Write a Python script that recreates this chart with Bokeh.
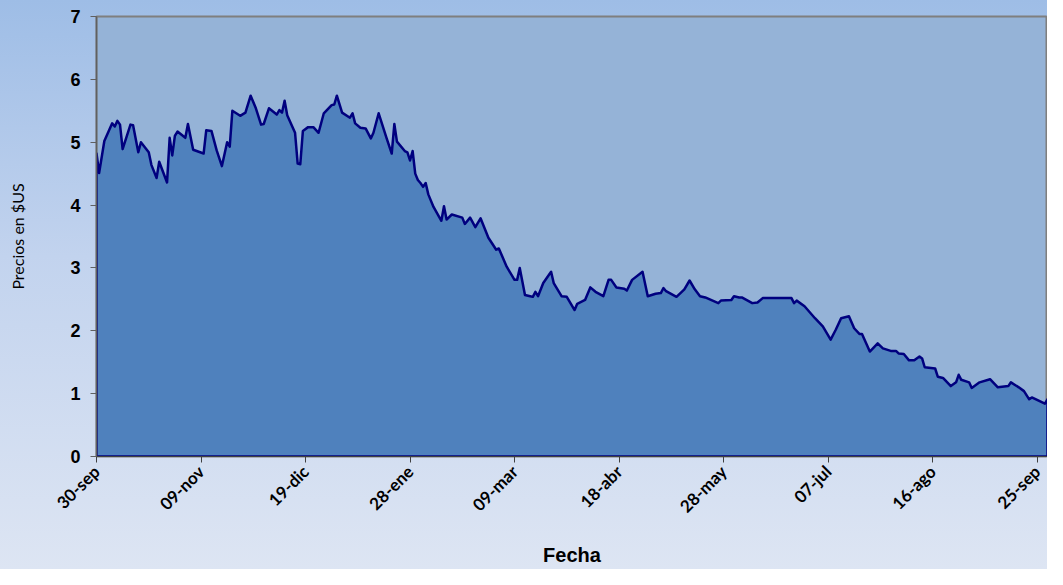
import math
from bokeh.plotting import figure
from bokeh.models import FixedTicker, Range1d
from bokeh.embed import file_html
from bokeh.resources import INLINE

# Días transcurridos desde el 30-sep
dias = [0, 1, 3, 6, 7, 8, 9, 10, 13, 14,
        16, 17, 20, 21, 23, 24, 27, 28, 29, 30,
        31, 34, 35, 37, 41, 42, 44, 46, 48, 50,
        51, 52, 55, 57, 59, 61, 63, 64, 66, 69,
        70, 71, 72, 73, 76, 77, 78, 79, 81, 83,
        85, 87, 90, 91, 92, 94, 97, 98, 99, 101,
        103, 105, 106, 108, 111, 113, 114, 115, 118, 119,
        120, 121, 122, 123, 124, 125, 126, 127, 129, 132,
        133, 134, 136, 140, 141, 143, 145, 147, 150, 153,
        154, 157, 160, 161, 162, 164, 166, 167, 168, 169,
        171, 174, 175, 178, 180, 183, 184, 187, 189, 191,
        194, 196, 197, 199, 202, 203, 205, 209, 211, 214,
        216, 217, 218, 222, 225, 227, 229, 231, 233, 238,
        239, 243, 244, 246, 247, 251, 253, 255, 266, 267,
        268, 271, 275, 278, 281, 283, 285, 288, 290, 292,
        293, 296, 299, 301, 304, 306, 307, 309, 311, 313,
        315, 316, 317, 321, 322, 324, 327, 329, 330, 331,
        334, 335, 338, 342, 345, 349, 350, 353, 355, 357,
        358, 361, 363, 364]

precios = [4.82, 4.51, 5.02, 5.30, 5.25, 5.34, 5.28, 4.89, 5.28, 5.27,
           4.84, 5.00, 4.84, 4.64, 4.43, 4.69, 4.36, 5.07, 4.79, 5.10,
           5.17, 5.07, 5.29, 4.88, 4.82, 5.19, 5.18, 4.87, 4.62, 5.00,
           4.93, 5.50, 5.42, 5.47, 5.74, 5.54, 5.28, 5.29, 5.54, 5.44,
           5.51, 5.47, 5.66, 5.43, 5.15, 4.66, 4.65, 5.18, 5.24, 5.24,
           5.15, 5.46, 5.59, 5.60, 5.74, 5.47, 5.39, 5.46, 5.30, 5.23,
           5.22, 5.06, 5.15, 5.46, 5.07, 4.82, 5.29, 5.01, 4.86, 4.84,
           4.71, 4.86, 4.50, 4.40, 4.35, 4.29, 4.35, 4.17, 3.97, 3.75,
           3.98, 3.77, 3.85, 3.80, 3.70, 3.80, 3.65, 3.79, 3.48, 3.29,
           3.31, 3.02, 2.81, 2.81, 3.00, 2.57, 2.55, 2.54, 2.62, 2.55,
           2.76, 2.94, 2.76, 2.55, 2.54, 2.33, 2.43, 2.49, 2.69, 2.62,
           2.55, 2.81, 2.81, 2.69, 2.67, 2.64, 2.81, 2.94, 2.55, 2.59,
           2.60, 2.68, 2.63, 2.54, 2.66, 2.80, 2.66, 2.55, 2.53, 2.44,
           2.48, 2.49, 2.55, 2.53, 2.53, 2.44, 2.45, 2.52, 2.52, 2.44,
           2.48, 2.39, 2.20, 2.07, 1.86, 2.02, 2.20, 2.23, 2.04, 1.95,
           1.95, 1.67, 1.80, 1.72, 1.68, 1.68, 1.64, 1.63, 1.53, 1.53,
           1.59, 1.56, 1.42, 1.40, 1.27, 1.25, 1.12, 1.18, 1.30, 1.22,
           1.18, 1.09, 1.18, 1.23, 1.10, 1.12, 1.18, 1.10, 1.04, 0.91,
           0.94, 0.88, 0.84, 0.91]

tick_dias = [0, 40, 80, 120, 160, 200, 240, 280, 320, 360]
tick_etiquetas = ["30-sep", "09-nov", "19-dic", "28-ene", "09-mar",
                  "18-abr", "28-may", "07-jul", "16-ago", "25-sep"]
y_ticks = [0, 1, 2, 3, 4, 5, 6, 7]

p = figure(width=1047, height=569, output_backend="svg", toolbar_location=None,
           x_range=Range1d(0, 364), y_range=Range1d(0, 7),
           min_border_left=96, min_border_top=16, min_border_right=0,
           min_border_bottom=100)

p.border_fill_alpha = 0
p.styles = {"background": "linear-gradient(to bottom, #9EBDE6 0%, #C2D3EE 45%, #DDE5F3 100%)"}
p.background_fill_color = "#95B3D7"
p.outline_line_color = "#7F7F7F"
p.outline_line_width = 2
p.grid.visible = False

xs = [dias[0]] + dias + [dias[-1]]
ys = [0] + precios + [0]
p.patch(xs, ys, fill_color="#4F81BD", line_color="#00007F", line_width=2.5,
        line_join="round")

# Eje X
xa = p.xaxis[0]
xa.ticker = FixedTicker(ticks=tick_dias)
xa.major_label_overrides = {d: t for d, t in zip(tick_dias, tick_etiquetas)}
xa.major_label_orientation = math.pi / 4
xa.major_label_text_font = "Lato"
xa.major_label_text_font_style = "bold"
xa.major_label_text_font_size = "17px"
xa.major_label_text_color = "#000000"
xa.major_label_standoff = 6
xa.major_tick_out = 6
xa.major_tick_in = 0
xa.minor_tick_line_color = None
xa.axis_line_color = "#404040"
xa.major_tick_line_color = "#404040"
xa.axis_label = "Fecha"
xa.axis_label_text_font = "Liberation Sans"
xa.axis_label_text_font_style = "bold"
xa.axis_label_text_font_size = "20px"
xa.axis_label_text_color = "#000000"
xa.axis_label_standoff = 17

# Eje Y
ya = p.yaxis[0]
ya.ticker = FixedTicker(ticks=y_ticks)
ya.major_label_text_font = "Liberation Sans"
ya.major_label_text_font_style = "bold"
ya.major_label_text_font_size = "18px"
ya.major_label_text_color = "#000000"
ya.major_label_standoff = 10
ya.major_tick_out = 6
ya.major_tick_in = 0
ya.minor_tick_line_color = None
ya.axis_line_color = "#606060"
ya.axis_line_width = 1.5
ya.major_tick_line_color = "#606060"
ya.axis_label = "Precios en $US"
ya.axis_label_text_font = "Lato"
ya.axis_label_text_font_style = "normal"
ya.axis_label_text_font_size = "16px"
ya.axis_label_text_color = "#000000"
ya.axis_label_standoff = 40

open("out.html", "w").write(file_html(p, INLINE))
